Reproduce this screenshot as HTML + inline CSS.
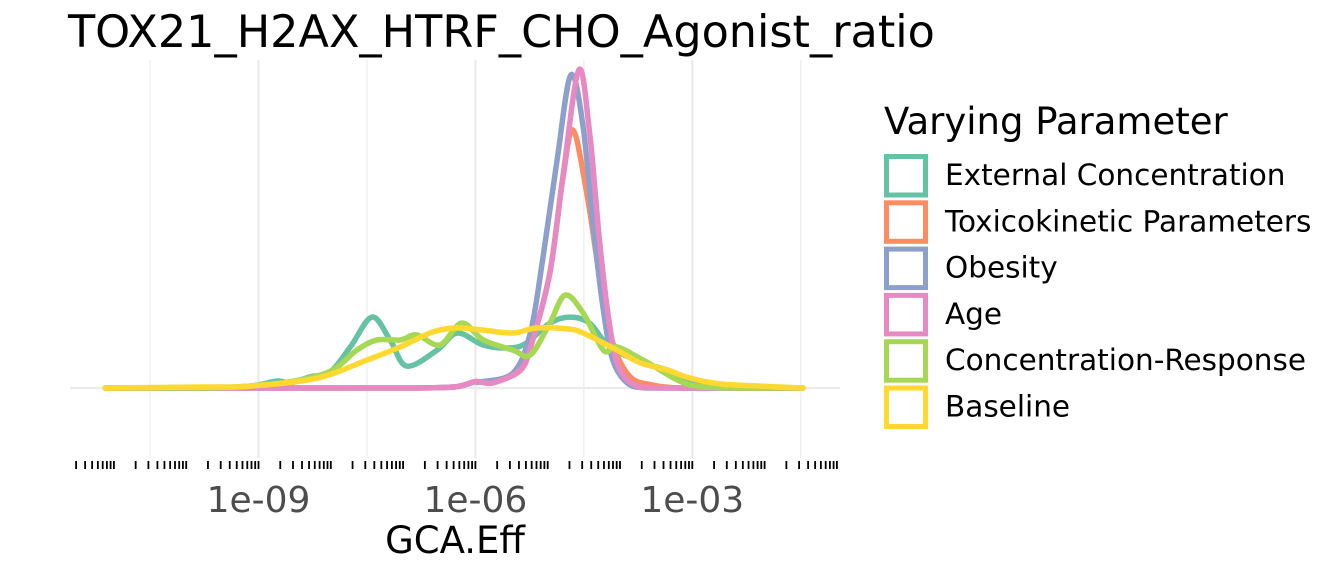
<!DOCTYPE html>
<html><head><meta charset="utf-8">
<style>
html,body{margin:0;padding:0;background:#fff;}
svg{display:block;font-family:"DejaVu Sans","Liberation Sans",sans-serif;}
</style></head>
<body>
<svg id="chart" width="1344" height="576" viewBox="0 0 1344 576">
<text x="68" y="47" font-size="44.5" fill="#000">TOX21_H2AX_HTRF_CHO_Agonist_ratio</text>
<g id="grid"></g>
<g id="ticks"></g>
<g id="xlabels"></g>
<g id="series"></g>
<text x="455" y="553" font-size="37" text-anchor="middle" fill="#000">GCA.Eff</text>
<g id="legend">
<text x="884" y="134" font-size="37" fill="#000">Varying Parameter</text>
</g>
</svg>
<script>
// ---- data (x = log10 GCA.Eff, y = density scaled so max ≈ 100) ----
const seriesNames = ["External Concentration","Toxicokinetic Parameters","Obesity","Age","Concentration-Response","Baseline"];
const seriesColors = ["#66c2a5","#fc8d62","#8da0cb","#e78ac3","#a6d854","#ffd92f"];
const majorTicks = [-9,-6,-3];
const majorLabels = ["1e-09","1e-06","1e-03"];

const extX = [-11.12,-9.81,-9.12,-8.74,-8.56,-8.29,-8.01,-7.73,-7.43,-7.18,-6.95,-6.53,-6.25,-5.89,-5.52,-5.29,-4.97,-4.69,-4.42,-4.14,-3.68,-3.35,-3.03,-2.62,-2.06,-1.47];
const extY = [0,0,0.6,2.2,1.6,3.5,5.0,12.9,22.3,15.1,6.9,11.9,17.3,13.5,12.6,14.2,20.4,22.3,20.4,12.9,7.9,5.7,2.5,0.6,0,0];

const toxX = [-11.12,-9.0,-7.0,-6.3,-6.0,-5.76,-5.38,-5.22,-4.97,-4.79,-4.65,-4.46,-4.28,-4.10,-3.86,-3.54,-3.17,-2.5,-1.47];
const toxY = [0,0,0,0.3,2.0,1.9,5.5,14.2,36.2,66.0,81.1,61.3,34.9,14.2,3.5,0.9,0,0,0];

const obeX = [-11.12,-9.0,-7.0,-6.3,-6.0,-5.94,-5.48,-5.24,-5.07,-4.87,-4.68,-4.51,-4.37,-4.23,-4.10,-3.90,-3.63,-3.0,-1.47];
const obeY = [0,0,0,0.3,2.0,1.9,4.7,17.3,40.3,71.7,98.4,82.1,50.6,24.5,8.8,1.6,0,0,0];

const ageX = [-11.12,-9.0,-7.0,-6.3,-6.0,-5.76,-5.38,-5.22,-4.97,-4.79,-4.57,-4.42,-4.28,-4.14,-4.00,-3.72,-3.2,-1.47];
const ageY = [0,0,0,0.3,2.0,1.6,5.7,14.2,36.2,66.4,100,80.2,45.6,19.2,5.7,0.3,0,0];

const crX = [-11.12,-9.81,-9.12,-8.43,-7.97,-7.64,-7.36,-7.04,-6.81,-6.49,-6.19,-5.89,-5.48,-5.24,-4.97,-4.76,-4.51,-4.23,-4.04,-3.68,-3.03,-2.34,-1.47];
const crY = [0,0,0.6,2.5,5.7,11.9,15.1,15.1,16.7,13.5,20.4,15.1,11.9,10.4,20.4,29.2,23.6,11.9,12.9,8.8,0.9,0,0];

const baseX = [-11.12,-9.81,-9.12,-8.19,-7.50,-7.04,-6.59,-6.25,-5.89,-5.48,-5.15,-4.73,-4.51,-4.04,-3.72,-3.35,-3.03,-2.62,-2.06,-1.47];
const baseY = [0,0.3,0.6,3.1,8.8,12.9,17.6,18.9,18.2,17.3,18.9,18.6,17.3,11.9,7.9,5.7,3.1,1.3,0.6,0];

const allX = [extX,toxX,obeX,ageX,crX,baseX];
const allY = [extY,toxY,obeY,ageY,crY,baseY];

// ---- scales ----
const x0px = 258.5, decadePx = 72.3;
function xs(L){ return x0px + (L + 9) * decadePx; }
function ys(v){ return 388 - v * 3.18; }
const NS = "http://www.w3.org/2000/svg";
function mk(tag, attrs, parent){ const e=document.createElementNS(NS,tag); for(const k in attrs) e.setAttribute(k,attrs[k]); parent.appendChild(e); return e; }

// grid
const grid = document.getElementById('grid');
for (let L=-10.5; L<=-1.4; L+=1.5){
  const major = Number.isInteger(L);
  const g = mk('line',{x1:xs(L),x2:xs(L),y1:60,y2:458,stroke:'#ebebeb','stroke-width':major?2.2:1.1},grid);
  
  
}
const hg = mk('line',{x1:70,x2:840,y1:ys(0),y2:ys(0),stroke:'#ebebeb','stroke-width':2.2},grid);



// log ticks
const ticks = document.getElementById('ticks');
for (let d=-13; d<=-1; d++){
  for (let m=1; m<=9; m++){
    const L = d + Math.log10(m);
    const x = xs(L);
    if (x < 72 || x > 838) continue;
    const t = mk('line',{x1:x,x2:x,y1:461,y2:469,stroke:'#000','stroke-width':1.8},ticks);
    
    
  }
}
// labels
const xl = document.getElementById('xlabels');
majorTicks.forEach((L,i)=>{
  const t = mk('text',{x:xs(L),y:512,'font-size':36,'text-anchor':'middle',fill:'#4d4d4d'},xl);
  t.textContent = majorLabels[i];
  
  
});

// curves (Catmull-Rom smoothing)
function pathFor(X,Y){
  const p = X.map((L,i)=>[xs(L), ys(Y[i])]);
  let d = `M${p[0][0]},${p[0][1]}`;
  for (let i=0;i<p.length-1;i++){
    const a=p[Math.max(0,i-1)], b=p[i], c=p[i+1], e=p[Math.min(p.length-1,i+2)];
    const c1=[b[0]+(c[0]-a[0])/6, b[1]+(c[1]-a[1])/6];
    const c2=[c[0]-(e[0]-b[0])/6, c[1]-(e[1]-b[1])/6];
    d += ` C${c1[0]},${Math.min(388,c1[1])} ${c2[0]},${Math.min(388,c2[1])} ${c[0]},${c[1]}`;
  }
  return d;
}
const sg = document.getElementById('series');
allX.forEach((X,i)=>{
  const p = mk('path',{d:pathFor(X,allY[i]),fill:'none',stroke:seriesColors[i],'stroke-width':5.5,'stroke-linejoin':'round','stroke-linecap':'round'},sg);
  
  
});

// legend
const lg = document.getElementById('legend');
seriesNames.forEach((n,i)=>{
  const y = 154 + i*46.3;
  const r = mk('rect',{x:886.5,y:y+2.5,width:39,height:38.5,fill:'#fff',stroke:seriesColors[i],'stroke-width':5},lg);
  
  
  const t = mk('text',{x:945,y:y+31,'font-size':29.5,fill:'#000'},lg);
  t.textContent = n;
  
  
});
</script>
</body></html>
